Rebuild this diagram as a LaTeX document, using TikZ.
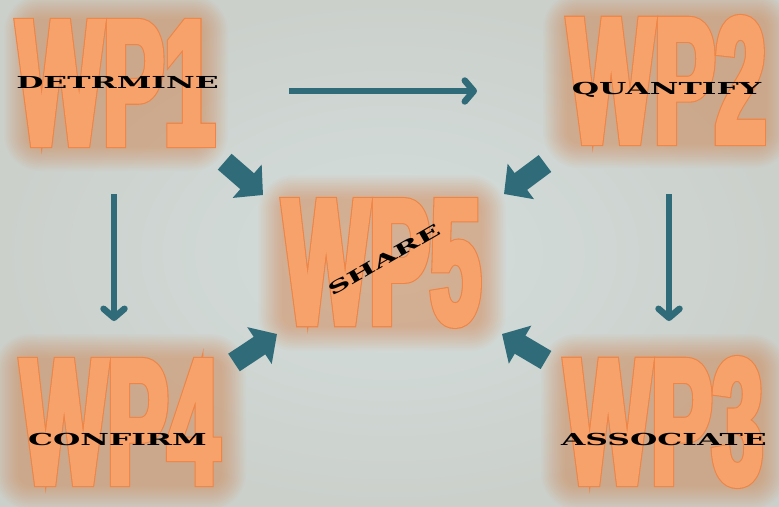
\documentclass[tikz,border=0pt]{standalone}
\usepackage{fontspec}
\usetikzlibrary{arrows.meta}

% Condensed heavy face for the work-package numbers, wide serif for the verbs
\newfontfamily\wpfont{Liberation Sans}[FakeStretch=0.51, FakeBold=2.8]
\newfontfamily\wprimfont{Liberation Sans}[FakeStretch=0.51, FakeBold=4]
\newfontfamily\tagfont{DejaVu Serif}[FakeStretch=1.9]

\definecolor{bgmid}{HTML}{D4DEDD}
\definecolor{bgedge}{HTML}{CBD0CB}
\definecolor{arrowteal}{HTML}{2F6B78}
\definecolor{wpfill}{HTML}{F6A26A}
\definecolor{wpedge}{HTML}{EE8446}
\definecolor{wpglow}{HTML}{E27A3A}

\tikzset{
  wpbase/.style={text=wpfill, inner sep=0pt},
  wp/.style={wpbase, font=\wpfont\bfseries\fontsize{179}{179}\selectfont},
  wprim/.style={wpbase, font=\wprimfont\bfseries\fontsize{179}{179}\selectfont, text=wpedge},
  halo/.style={fill=wpglow, opacity=0.032},
  tag/.style={font=\tagfont\bfseries\fontsize{16.5}{16.5}\selectfont, text=black, inner sep=0pt},
  flow/.style={draw=arrowteal, line width=6.5pt, -{Straight Barb[length=9pt,width=21pt,round]}},
  feed/.style={draw=arrowteal, line width=21pt, -{Triangle[length=21pt,width=43pt]}},
}

% \wpword{name}{x}{y}{half width}{half height}{text}: glowing work-package label
\newcommand\wpword[6]{%
  \foreach \k in {0,...,15}{
    \pgfmathsetmacro\m{26-1.6*\k}
    \pgfmathsetmacro\rc{\m+10}
    \fill[halo, rounded corners=\rc pt]
      (#2-#4-\m, #3-#5-\m) rectangle (#2+#4+\m, #3+#5+\m);
  }
  \node[wprim] (#1-rim) at (#2,#3) {#6};
  \node[wp] (#1) at (#2,#3) {#6};
}

\begin{document}
\begin{tikzpicture}[x=1pt, y=-1pt]
  % background
  \shade[inner color=bgmid, outer color=bgedge] (0,0) rectangle (779,506);
  \useasboundingbox (0,0) rectangle (779,506);

  % work packages
  \wpword{wp1}{116}{83}{86}{62}{WP1}
  \wpword{wp2}{667}{80}{98}{62}{WP2}
  \wpword{wp5}{382}{263}{98}{62}{WP5}
  \wpword{wp4}{120}{422}{100}{62}{WP4}
  \wpword{wp3}{664}{422}{97}{62}{WP3}

  % verbs
  \node[tag, anchor=base] (t1) at (117.5,88) {DETRMINE};
  \node[tag, anchor=base] (t2) at (666.5,94) {QUANTIFY};
  \node[tag, anchor=base] (t4) at (117.5,445) {CONFIRM};
  \node[tag, anchor=base] (t3) at (664,445) {ASSOCIATE};
  \node[tag, rotate=30] (t5) at (384,260) {SHARE};

  % flow between packages
  \coordinate (a12) at (289,91);   \coordinate (b12) at (477,91);
  \coordinate (a14) at (114,194);  \coordinate (b14) at (114,321);
  \coordinate (a23) at (669,194);  \coordinate (b23) at (669,321);
  \draw[flow] (a12) -- (b12);
  \draw[flow] (a14) -- (b14);
  \draw[flow] (a23) -- (b23);

  % everything feeds into WP5
  \coordinate (f1) at (224.7,161.7); \coordinate (g1) at (263,195);
  \coordinate (f2) at (545,163.5);   \coordinate (g2) at (504,194);
  \coordinate (f4) at (234,362.5);   \coordinate (g4) at (277,334);
  \coordinate (f3) at (546,360);     \coordinate (g3) at (502,334);
  \draw[feed] (f1) -- (g1);
  \draw[feed] (f2) -- (g2);
  \draw[feed] (f4) -- (g4);
  \draw[feed] (f3) -- (g3);
\end{tikzpicture}
\end{document}
